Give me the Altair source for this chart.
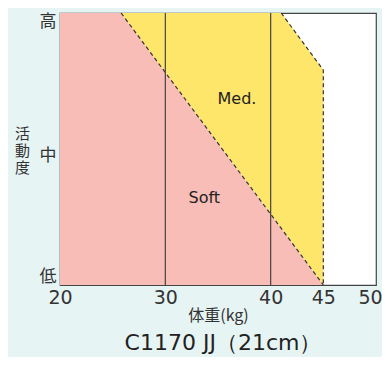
import altair as alt
import pandas as pd

# data
soft_x = [20, 25.8, 45]
soft_top = [2, 2, 0]
med_x = [25.8, 41, 45]
med_top = [2, 2, 1.58]
med_bottom = [2, 0.42, 0]
boundary_x = [25.8, 45]
boundary_y = [2, 0]
med_edge_x = [41, 45, 45]
med_edge_y = [2, 1.58, 0]
grid_x = [30, 40]
x_ticks = [20, 30, 40, 45, 50]
y_ticks = [0, 0.95, 2]
y_labels = ["低", "中", "高"]
labels = ["Med.", "Soft"]
label_x = [36.8, 33.7]
label_y = [1.37, 0.64]

PINK = "#f8bdb7"
YELLOW = "#fee66b"
BG = "#e7f4f4"

xs = alt.Scale(domain=[20, 50], nice=False, zero=False)
ys = alt.Scale(domain=[0, 2], nice=False, zero=False)

label_expr = "datum.value < 0.5 ? '低' : (datum.value < 1.5 ? '中' : '高')"

soft_df = pd.DataFrame({"x": soft_x, "y": soft_top, "y2": [0, 0, 0]})
med_df = pd.DataFrame({"x": med_x, "y": med_top, "y2": med_bottom})
bnd_df = pd.DataFrame({"x": boundary_x, "y": boundary_y})
edge_df = pd.DataFrame({"x": med_edge_x, "y": med_edge_y, "o": [0, 1, 2]})
grid_df = pd.DataFrame({"x": grid_x})
lab_df = pd.DataFrame({"t": labels, "x": label_x, "y": label_y})

soft = alt.Chart(soft_df).mark_area(color=PINK, opacity=1).encode(
    x=alt.X("x:Q", scale=xs, axis=alt.Axis(
        values=x_ticks, title="体重(kg)", ticks=False, domain=False, grid=False,
        labelFontSize=19, labelColor="#333", labelPadding=3, labelFont="DejaVu Sans",
        labelFlush=False,
        labelOffset={"condition": {"test": "datum.value == 50", "value": -6}, "value": 0},
        titleFontSize=16, titleColor="#333", titleFontWeight="normal", titlePadding=0,
        titleFont="Noto Sans CJK JP")),
    y=alt.Y("y:Q", scale=ys, axis=alt.Axis(
        values=y_ticks, labelExpr=label_expr, ticks=False, domain=False, grid=False,
        labelFontSize=17, labelColor="#333", labelPadding=4, labelFlush=True,
        labelFont="Noto Sans CJK JP",
        title=["活", "動", "度"], titleAngle=0, titleFontSize=15, titleColor="#333",
        titleFontWeight="normal", titleFont="Noto Sans CJK JP", titleX=-38, titleY=113,
        titleAlign="center", titleBaseline="top", titleLineHeight=17)),
    y2="y2:Q",
)

med = alt.Chart(med_df).mark_area(color=YELLOW, opacity=1).encode(
    x=alt.X("x:Q", scale=xs), y=alt.Y("y:Q", scale=ys), y2="y2:Q"
)

bnd = alt.Chart(bnd_df).mark_line(color="#333", strokeDash=[4, 3], strokeWidth=1.2).encode(
    x=alt.X("x:Q", scale=xs), y=alt.Y("y:Q", scale=ys)
)
edge = alt.Chart(edge_df).mark_line(color="#333", strokeDash=[4, 3], strokeWidth=1.2).encode(
    x=alt.X("x:Q", scale=xs), y=alt.Y("y:Q", scale=ys), order="o:Q"
)
grid = alt.Chart(grid_df).mark_rule(color="#444", strokeWidth=1.2).encode(
    x=alt.X("x:Q", scale=xs)
)
txt = alt.Chart(lab_df).mark_text(fontSize=16, color="#222", font="DejaVu Sans").encode(
    x=alt.X("x:Q", scale=xs), y=alt.Y("y:Q", scale=ys), text="t:N"
)

chart = alt.layer(soft, med, bnd, edge, grid, txt).properties(
    width=316, height=272,
    background=BG,
    autosize=alt.AutoSizeParams(type="none"),
    padding={"left": 52, "top": 5, "right": 6, "bottom": 72},
    title=alt.TitleParams("C1170 JJ（21cm）", orient="bottom", anchor="middle",
                          fontSize=22, font="DejaVu Sans", fontWeight="normal",
                          color="#222", offset=10, dx=5),
).configure_view(stroke="#444", strokeWidth=1.2, fill="white")

chart.save("out.html", embed_options={"renderer": "svg", "actions": False})
